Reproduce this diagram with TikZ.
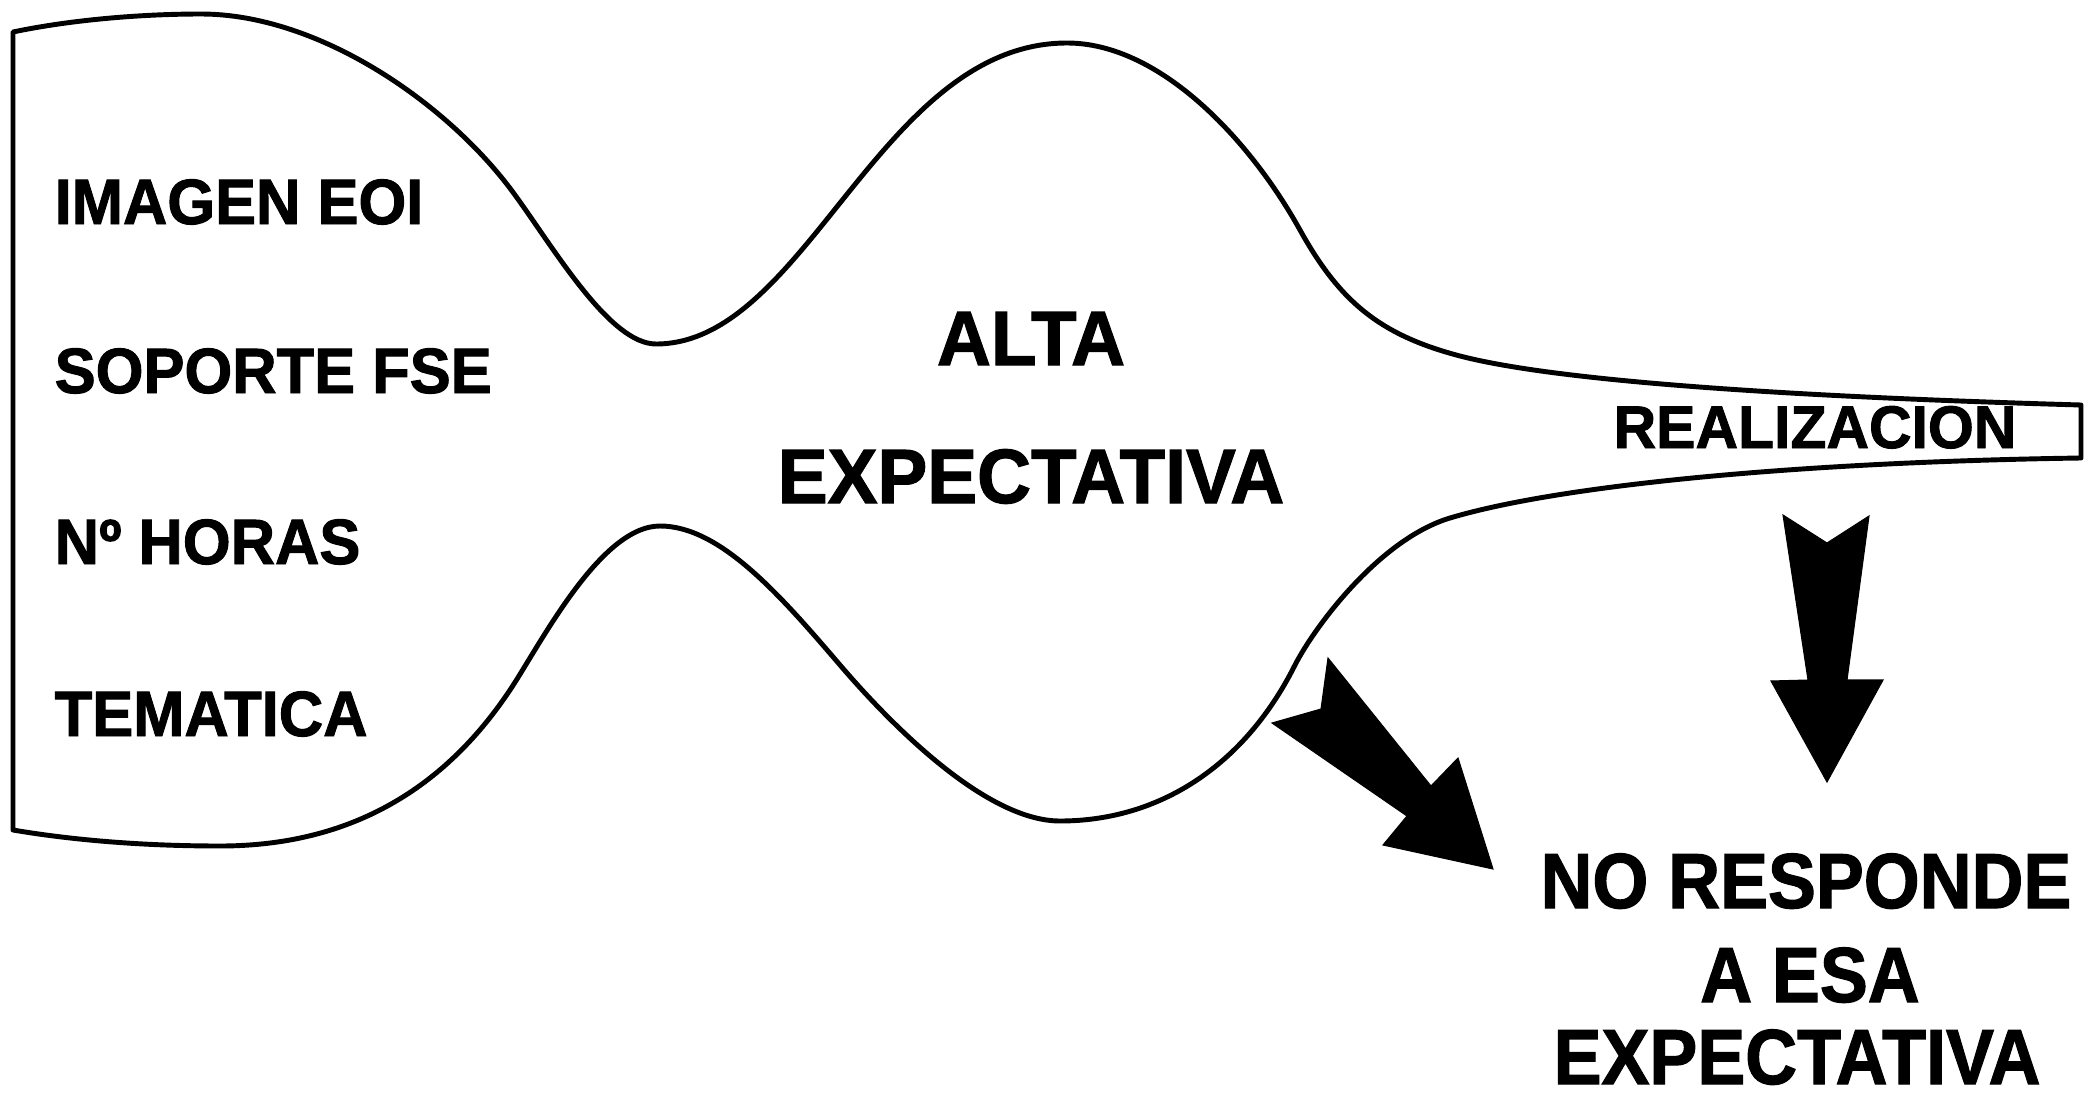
\documentclass[tikz,border=0pt]{standalone}
\usepackage{fontspec}
\newfontfamily\lblfont{Liberation Sans}[FakeStretch=0.96, BoldFeatures={FakeBold=1.5}]
\newfontfamily\midfont{Liberation Sans}[FakeStretch=0.97, BoldFeatures={FakeBold=1.5}]
\newfontfamily\tubefont{Liberation Sans}[FakeStretch=0.98, BoldFeatures={FakeBold=1.5}]
\newfontfamily\resfont{Liberation Sans}[FakeStretch=0.92, BoldFeatures={FakeBold=1.5}]
\begin{document}
\begin{tikzpicture}[x=0.01cm,y=-0.01cm,
  outline/.style={draw=black, line width=1.4pt, line join=round},
  blockarrow/.style={fill=black, draw=black, line width=0.3pt, line join=miter},
  lbl/.style={font=\lblfont\bfseries\fontsize{18.2}{21}\selectfont, inner sep=0pt, anchor=base west},
  midtxt/.style={font=\midfont\bfseries\fontsize{21.9}{26}\selectfont, inner sep=0pt, anchor=base},
  tubetxt/.style={font=\tubefont\bfseries\fontsize{17.1}{20}\selectfont, inner sep=0pt, anchor=base},
  restxt/.style={font=\resfont\bfseries\fontsize{22.2}{26}\selectfont, inner sep=0pt, text depth=0pt, anchor=base}]
\useasboundingbox (0,0) rectangle (2087,1103);
% funnel outline
\draw[outline] (13,32) .. controls (70,20) and (140,14) .. (201,14)
 .. controls (320,14) and (450,105) .. (515,195)
 .. controls (555,250) and (610,344) .. (656,344)
 .. controls (806,344) and (880,43) .. (1067,43)
 .. controls (1160,43) and (1250,140) .. (1300,230)
 .. controls (1340,302) and (1380,335) .. (1460,356)
 .. controls (1560,382) and (1800,397) .. (2081,405)
 -- (2081,458)
 .. controls (1800,462) and (1560,485) .. (1450,518)
 .. controls (1380,539) and (1315,626) .. (1295,665)
 .. controls (1245,765) and (1160,821) .. (1060,821)
 .. controls (990,821) and (900,735) .. (840,665)
 .. controls (780,595) and (720,526) .. (660,526)
 .. controls (600,526) and (540,645) .. (510,690)
 .. controls (450,780) and (360,846) .. (220,846)
 .. controls (130,846) and (60,838) .. (13,830)
 -- cycle;
% left labels
\node[lbl] (imagen) at (54,224) {IMAGEN EOI};
\node[lbl] (soporte) at (54,393) {SOPORTE FSE};
\node[lbl] (horas) at (54,564) {Nº HORAS};
\node[lbl] (tematica) at (54,736) {TEMATICA};
% middle
\node[midtxt] (alta) at (1031,365) {ALTA};
\node[midtxt] (expect) at (1031,503) {EXPECTATIVA};
% tube
\node[tubetxt] (real) at (1815,448) {REALIZACION};
% result
\node[restxt] (resp1) at (1806,908) {NO RESPONDE};
\node[restxt] (resp2) at (1810,1002) {A ESA};
\node[restxt] (resp3) at (1797,1084) {EXPECTATIVA};
% block arrows
\fill[blockarrow] (1783,515) -- (1827,543) -- (1869,516) -- (1847,680) -- (1883,680) -- (1827,782) -- (1771,681) -- (1808,680) -- cycle;
\fill[blockarrow] (1328,658) -- (1431,786) -- (1458,758) -- (1493,869) -- (1383,845) -- (1407,816) -- (1272,723) -- (1321,709) -- cycle;
\end{tikzpicture}
\end{document}
